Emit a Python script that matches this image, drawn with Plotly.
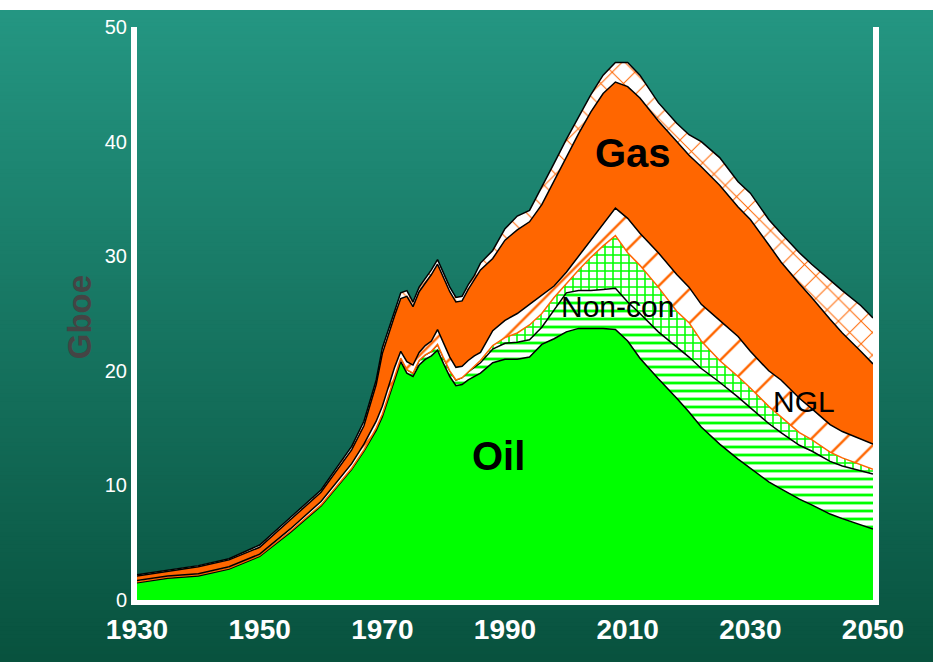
import plotly.graph_objects as go

years = [1930, 1935, 1940, 1945, 1950, 1955, 1960, 1965,
         1967, 1969, 1970,
         1972, 1973, 1974, 1975, 1976, 1977, 1978, 1979, 1980, 1981, 1982, 1983, 1984, 1985, 1986,
         1988, 1990, 1992, 1994, 1996, 1998, 2000, 2002, 2004, 2006, 2008, 2010,
         2012, 2015, 2018, 2020, 2022, 2025, 2028, 2030, 2033, 2035, 2038, 2040, 2043, 2045, 2048, 2050]

oil = [1.5, 1.9, 2.1, 2.7, 3.8, 5.9, 8.2, 11.4,
       13.0, 14.8, 16.0,
       19.3, 20.8, 19.8, 19.5, 20.5, 21.0, 21.3, 21.8, 20.6, 19.5, 18.7, 18.8, 19.2, 19.5, 19.8,
       20.7, 21.0, 21.0, 21.2, 22.3, 22.8, 23.4, 23.7, 23.7, 23.7, 23.6, 22.6,
       21.1, 19.3, 17.6, 16.4, 15.1, 13.6, 12.3, 11.5, 10.3, 9.7, 8.8, 8.3, 7.5, 7.1, 6.6, 6.2]

heavy = [0.1, 0.1, 0.1, 0.1, 0.1, 0.1, 0.1, 0.1,
         0.1, 0.2, 0.2,
         0.3, 0.3, 0.3, 0.3, 0.4, 0.4, 0.4, 0.5, 0.5, 0.5, 0.5, 0.6, 0.7, 0.8, 0.9,
         1.2, 1.4, 1.5, 1.5, 1.5, 2.5, 3.4, 3.3, 3.3, 3.4, 3.6, 3.4,
         3.9, 4.1, 4.5, 4.8, 5.1, 5.4, 5.4, 5.3, 5.1, 4.9, 4.7, 4.7, 4.6, 4.6, 4.7, 4.8]

noncon = [0, 0, 0, 0, 0, 0, 0, 0,
          0, 0, 0,
          0, 0, 0, 0, 0, 0, 0, 0, 0, 0, 0, 0, 0, 0.1, 0.2,
          0.3, 0.5, 0.8, 1.3, 1.2, 1.1, 0.8, 1.8, 2.9, 3.8, 4.6, 4.3,
          4.2, 3.9, 3.1, 3.0, 2.4, 1.9, 1.8, 1.7, 1.5, 1.4, 1.1, 1.0, 0.8, 0.7, 0.5, 0.4]

ngl = [0.1, 0.1, 0.1, 0.1, 0.1, 0.2, 0.3, 0.4,
       0.5, 0.6, 0.7,
       0.7, 0.6, 0.7, 0.7, 0.7, 0.8, 0.9, 1.3, 1.3, 1.2, 1.1, 1.0, 1.0, 0.9, 0.7,
       1.3, 1.5, 1.7, 1.8, 1.6, 1.0, 1.0, 1.2, 1.5, 2.0, 2.4, 3.0,
       2.8, 3.0, 3.2, 3.1, 3.2, 3.5, 3.5, 3.2, 3.1, 3.2, 3.0, 2.7, 2.4, 2.3, 2.2, 2.2]

gas = [0.4, 0.4, 0.6, 0.6, 0.6, 0.8, 0.8, 1.2,
       1.6, 3.2, 4.6,
       4.5, 4.6, 5.7, 5.1, 5.3, 5.4, 5.8, 5.7, 5.7, 5.7, 5.7, 5.7, 6.2, 6.6, 7.2,
       6.3, 7.0, 7.3, 7.2, 7.9, 9.2, 10.1, 10.7, 11.2, 11.3, 11.0, 11.5,
       11.8, 11.5, 11.6, 11.5, 12.0, 11.8, 11.3, 11.5, 11.0, 10.3, 10.0, 9.7, 9.2, 8.6, 7.7, 7.0]

ncgas = [0.1, 0.1, 0.1, 0.1, 0.2, 0.2, 0.2, 0.3,
         0.4, 0.4, 0.5,
         0.4, 0.5, 0.5, 0.4, 0.4, 0.4, 0.4, 0.4, 0.4, 0.4, 0.4, 0.4, 0.4, 0.4, 0.6,
         0.7, 1.0, 1.2, 1.0, 1.5, 1.5, 1.5, 1.4, 1.5, 1.6, 1.7, 2.1,
         2.0, 1.6, 1.6, 1.8, 2.2, 2.4, 2.2, 2.3, 2.2, 2.5, 2.7, 2.9, 3.4, 3.7, 4.0, 4.0]

x_ticks = [1930, 1950, 1970, 1990, 2010, 2030, 2050]
y_ticks = [0, 10, 20, 30, 40, 50]

GREEN = "#00ff00"
ORANGE = "#ff6600"
SANS = "Liberation Sans, Arial, sans-serif"

fig = go.Figure()

layers = [
    ("Oil", oil, dict(fillcolor=GREEN), "black"),
    ("Heavy", heavy, dict(fillcolor="white",
                           fillpattern=dict(shape="-", bgcolor="white", fgcolor=GREEN,
                                            fgopacity=1, fillmode="replace",
                                            size=8, solidity=0.35)), "black"),
    ("Non-con", noncon, dict(fillcolor="white",
                             fillpattern=dict(shape="+", bgcolor="white", fgcolor=GREEN,
                                              fgopacity=1, fillmode="replace",
                                              size=8, solidity=0.35)), ORANGE),
    ("NGL", ngl, dict(fillcolor="white",
                      fillpattern=dict(shape="/", bgcolor="white", fgcolor=ORANGE,
                                       fgopacity=1, fillmode="replace",
                                       size=24, solidity=0.1)), "black"),
    ("Gas", gas, dict(fillcolor=ORANGE), "black"),
    ("Non-con gas", ncgas, dict(fillcolor="white",
                                fillpattern=dict(shape="x", bgcolor="white", fgcolor=ORANGE,
                                                 fgopacity=1, fillmode="replace",
                                                 size=16, solidity=0.12)), "black"),
]

for name, vals, fillargs, lc in layers:
    fig.add_trace(go.Scatter(
        x=years, y=vals, name=name, mode="lines", stackgroup="one",
        line=dict(color=lc, width=1.5), hoverinfo="x+y+name", **fillargs))

# background gradient (teal at top to dark green at bottom)
top_c = (36, 150, 130)
bot_c = (8, 82, 62)
n = 160
y_top, y_bot = 1.0297, -0.11
shapes = []
for i in range(n):
    f = i / (n - 1)
    c = tuple(int(round(top_c[k] + (bot_c[k] - top_c[k]) * f)) for k in range(3))
    y1 = y_top - (y_top - y_bot) * i / n
    y0 = y_top - (y_top - y_bot) * (i + 1) / n
    shapes.append(dict(type="rect", xref="paper", yref="paper",
                       x0=-0.2, x1=1.1, y0=y0 - 0.002, y1=y1,
                       fillcolor="rgb(%d,%d,%d)" % c, line=dict(width=0),
                       layer="below"))

fig.update_layout(
    width=933, height=662,
    margin=dict(l=137, r=60, t=27, b=62),
    paper_bgcolor="white",
    plot_bgcolor="rgba(0,0,0,0)",
    showlegend=False,
    shapes=shapes,
    xaxis=dict(range=[1930, 2050], tickvals=x_ticks, showgrid=False, zeroline=False,
               showline=True, linecolor="white", linewidth=5, ticks="",
               automargin=False,
               tickfont=dict(family=SANS, size=28, color="white", weight="bold")),
    yaxis=dict(range=[0, 50], tickvals=y_ticks, showgrid=False, zeroline=False,
               showline=True, mirror=True, linecolor="white", linewidth=6, ticks="",
               automargin=False,
               tickfont=dict(family=SANS, size=20, color="white")),
    annotations=[
        dict(text="Gboe", xref="paper", yref="paper", x=-0.077, y=0.494,
             xanchor="center", yanchor="middle",
             showarrow=False, textangle=-90,
             font=dict(family=SANS, size=33, color="#444444", weight="bold")),
        dict(text="Gas", x=2010.8, y=39.0, showarrow=False,
             font=dict(family=SANS, size=40, color="black", weight="bold")),
        dict(text="Oil", x=1988.9, y=12.6, showarrow=False,
             font=dict(family=SANS, size=40, color="black", weight="bold")),
        dict(text="Non-con", x=2008.4, y=25.6, showarrow=False,
             font=dict(family=SANS, size=30, color="black")),
        dict(text="NGL", x=2038.7, y=17.3, showarrow=False,
             font=dict(family=SANS, size=30, color="black")),
    ],
)

fig.write_html("out.html", config={"displayModeBar": False},
               post_script="document.body.style.margin='0';")
